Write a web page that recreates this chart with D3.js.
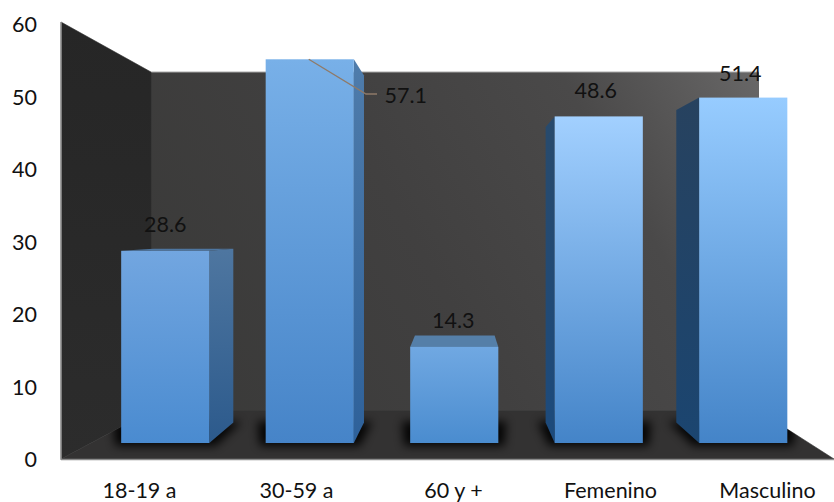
<!DOCTYPE html>
<html>
<head>
<meta charset="utf-8">
<script src="https://cdn.jsdelivr.net/npm/d3@7/dist/d3.min.js"></script>
<style>
  html, body { margin: 0; padding: 0; background: #fff; }
  svg { display: block; }
  text { font-family: Lato, "Open Sans", sans-serif; fill: #111; }
</style>
</head>
<body>
<svg id="chart" width="834" height="502"></svg>
<script>
const categories = ["18-19 a", "30-59 a", "60 y +", "Femenino", "Masculino"];
const values = [28.6, 57.1, 14.3, 48.6, 51.4];
const axisTicks = [0, 10, 20, 30, 40, 50, 60];

// Top and bottom colours of each bar's front face and shaded side face
const frontTop = ["#72a6e0", "#78b0e8", "#70a8e2", "#a2d0ff", "#97ccff"];
const frontBottom = ["#4a8bd0", "#4684c8", "#4a8ccf", "#4484c8", "#4484c8"];
const sideTop = ["#4e76a0", "#4f7cab", "#557fa8", "#284a6c", "#27425f"];
const sideBottom = ["#2c5a8c", "#2e619a", "#2e5f95", "#1c4a7c", "#1b4570"];

const fontSize = 21.5;
const svg = d3.select("#chart");
const defs = svg.append("defs");

function linearGradient(id, x1, y1, x2, y2, stops) {
  const g = defs.append("linearGradient").attr("id", id)
    .attr("gradientUnits", "userSpaceOnUse")
    .attr("x1", x1).attr("y1", y1).attr("x2", x2).attr("y2", y2);
  stops.forEach(([o, c]) => g.append("stop").attr("offset", o).attr("stop-color", c));
}

// Scales: the axes run along the chart box, bars stand on the nearer floor plane
const axisY = d3.scaleLinear().domain([0, 60]).range([460, 25]);
const axisX = d3.scaleBand().domain(categories).range([61, 846]);
const barY = d3.scaleLinear().domain([0, 60]).range([443, 39.8]);
const barX = d3.scaleBand().domain(categories).range([93, 815.5])
  .paddingInner(0.39).paddingOuter(0.195);

// One-point perspective used for the depth of every box
const vanish = { x: 460, y: 228 }, depth = 0.0957;
const back = (x, y) => [x + (vanish.x - x) * depth, y + (vanish.y - y) * depth];
const poly = pts => pts.map(p => p.join(",")).join(" ");

// Room: back wall, left wall, floor
const room = { left: 61, innerLeft: 151, innerRight: 759, right: 834,
               top: 22, innerTop: 72, innerBottom: 411, bottom: 459 };
const floorPoints = poly([[room.left, room.bottom], [room.innerLeft, room.innerBottom],
  [room.innerRight, room.innerBottom], [room.right, room.bottom]]);

linearGradient("wallGrad", room.innerLeft, room.innerBottom, room.innerRight, room.innerTop,
  [[0, "#393938"], [0.45, "#414040"], [0.75, "#4a4949"], [1, "#686767"]]);
linearGradient("sideWallGrad", 0, room.top, 0, room.bottom, [[0, "#262626"], [1, "#2c2c2c"]]);

svg.append("rect")
  .attr("x", room.innerLeft).attr("y", room.innerTop)
  .attr("width", room.innerRight - room.innerLeft)
  .attr("height", room.innerBottom - room.innerTop)
  .attr("fill", "url(#wallGrad)");
svg.append("line")
  .attr("x1", room.innerLeft).attr("x2", room.innerRight)
  .attr("y1", room.innerTop).attr("y2", room.innerTop)
  .attr("stroke", "#a8a8a8").attr("stroke-width", 1);
svg.append("polygon")
  .attr("points", poly([[room.left, room.top], [room.innerLeft, room.innerTop],
    [room.innerLeft, room.innerBottom], [room.left, room.bottom]]))
  .attr("fill", "url(#sideWallGrad)")
  .attr("stroke", "#2c2c2c").attr("stroke-width", 0.6);
svg.append("polygon")
  .attr("points", floorPoints)
  .attr("fill", "#333232")
  .attr("stroke", "#333232").attr("stroke-width", 0.6);

// Box edges
svg.append("line")
  .attr("x1", room.left).attr("x2", room.left)
  .attr("y1", room.top).attr("y2", room.bottom + 1)
  .attr("stroke", "#9a9a9a").attr("stroke-width", 1.5);
svg.append("line")
  .attr("x1", room.left).attr("x2", room.right)
  .attr("y1", room.bottom + 0.5).attr("y2", room.bottom + 0.5)
  .attr("stroke", "#8c8c8c").attr("stroke-width", 1.5);

// Soft contact shadows beneath the bars, kept on the floor
const blur = defs.append("filter").attr("id", "soft")
  .attr("x", "-30%").attr("y", "-60%").attr("width", "160%").attr("height", "220%");
blur.append("feGaussianBlur").attr("stdDeviation", 5);
defs.append("clipPath").attr("id", "floorClip")
  .append("polygon").attr("points", floorPoints);

const base = barY(0);
svg.append("g").attr("clip-path", "url(#floorClip)")
  .selectAll("polygon").data(categories).join("polygon")
  .attr("filter", "url(#soft)")
  .attr("fill", "#000")
  .attr("opacity", 0.9)
  .attr("points", d => {
    const x0 = barX(d), x1 = x0 + barX.bandwidth();
    const bl = back(x0, base), br = back(x1, base);
    return poly([[x0 - 6, base + 3], [x1 + 6, base + 3],
                 [Math.max(br[0], x1) + 8, br[1] - 1], [Math.min(bl[0], x0) - 8, bl[1] - 1]]);
  });

// Bars
const bars = svg.append("g").selectAll("g").data(values).join("g");

bars.each(function (v, i) {
  const g = d3.select(this);
  const x0 = barX(categories[i]), x1 = x0 + barX.bandwidth();
  const yT = barY(v);

  linearGradient("front" + i, 0, yT, 0, base, [[0, frontTop[i]], [1, frontBottom[i]]]);
  linearGradient("side" + i, 0, yT, 0, base, [[0, sideTop[i]], [1, sideBottom[i]]]);

  // The face turned toward the viewer depends on which side of the vanishing point the bar is
  const edge = x1 < vanish.x ? x1 : (x0 > vanish.x ? x0 : null);
  if (edge !== null) {
    g.append("polygon")
      .attr("points", poly([[edge, yT], back(edge, yT), back(edge, base), [edge, base]]))
      .attr("fill", `url(#side${i})`);
  }
  if (yT > vanish.y) {
    g.append("polygon")
      .attr("points", poly([[x0, yT], [x1, yT], back(x1, yT), back(x0, yT)]))
      .attr("fill", sideTop[i]);
  }
  g.append("rect")
    .attr("x", x0).attr("y", yT)
    .attr("width", x1 - x0).attr("height", base - yT)
    .attr("fill", `url(#front${i})`);
});

// Leader line from the tallest bar to its displaced label
const tallest = d3.index(categories.map((c, i) => ({ c, v: values[i] })), d => d.c).get("30-59 a");
const leaderX = barX(tallest.c) + barX.bandwidth() / 2;
svg.append("polyline")
  .attr("points", poly([[leaderX - 1, barY(tallest.v)], [366, 94], [377, 94]]))
  .attr("fill", "none").attr("stroke", "#8f7a68").attr("stroke-width", 1.3);

// Value labels
const labelOffset = { "18-19 a": [0, -26], "30-59 a": [96, 37], "60 y +": [-1, -26],
                      "Femenino": [-3, -25], "Masculino": [-3, -23] };
svg.append("g").selectAll("text").data(values).join("text")
  .attr("x", (v, i) => barX(categories[i]) + barX.bandwidth() / 2 + labelOffset[categories[i]][0])
  .attr("y", (v, i) => barY(v) + labelOffset[categories[i]][1])
  .attr("dy", ".32em")
  .attr("text-anchor", "middle")
  .attr("font-size", fontSize)
  .text(v => v.toFixed(1));

// Value axis
const yAxis = svg.append("g")
  .attr("transform", "translate(37,0)")
  .call(d3.axisLeft(axisY).tickValues(axisTicks).tickSize(0).tickPadding(0));
yAxis.select(".domain").remove();
yAxis.selectAll("text").attr("font-size", fontSize).style("font-family", "Lato, 'Open Sans', sans-serif").style("fill", "#111");

// Category axis
const xAxis = svg.append("g")
  .attr("transform", "translate(0,483)")
  .call(d3.axisBottom(axisX).tickSize(0).tickPadding(0));
xAxis.select(".domain").remove();
xAxis.selectAll("text").attr("font-size", fontSize).style("font-family", "Lato, 'Open Sans', sans-serif").style("fill", "#111");
</script>
</body>
</html>
